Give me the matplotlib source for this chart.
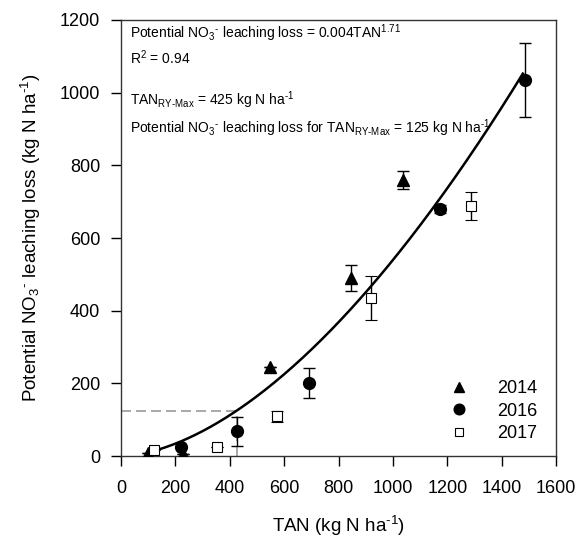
import numpy as np
import matplotlib
matplotlib.use("Agg")
import matplotlib.pyplot as plt

plt.rcParams["font.family"] = ["Liberation Sans", "DejaVu Sans"]
plt.rcParams["mathtext.fontset"] = "custom"
plt.rcParams["mathtext.rm"] = "Liberation Sans"
plt.rcParams["mathtext.it"] = "Liberation Sans"
plt.rcParams["mathtext.default"] = "regular"

# 2014
tan_2014 = [100, 228, 548, 845, 1037]
loss_2014 = [8, 5, 245, 490, 760]
err_2014 = [0, 0, 0, 35, 24]
# 2016
tan_2016 = [221, 427, 691, 1173, 1485]
loss_2016 = [25, 69, 201, 680, 1036]
err_2016 = [0, 40, 41, 10, 102]
# 2017
tan_2017 = [121, 353, 573, 920, 1287]
loss_2017 = [16, 25, 110, 435, 688]
err_2017 = [0, 0, 15, 60, 39]

coef, expo = 0.004, 1.71
tan_max = 425
loss_at_max = 125

fig = plt.figure(figsize=(5.81, 5.36), dpi=100)
ax = fig.add_axes([0.2083, 0.149, 0.7487, 0.8137])

x_fit = np.linspace(100, 1478, 200)
ax.plot(x_fit, coef * x_fit ** expo, color="black", lw=1.8, zorder=2)

ax.plot([0, tan_max], [loss_at_max, loss_at_max], ls=(0, (6, 3)), color="#999999", lw=1.2, zorder=1)
ax.plot([tan_max, tan_max], [0, loss_at_max], ls=(0, (6, 3)), color="#999999", lw=1.2, zorder=1)

ax.errorbar(tan_2014, loss_2014, yerr=err_2014, fmt="^", color="black", ms=8,
            capsize=4, elinewidth=1, capthick=1, label="2014", zorder=3)
ax.errorbar(tan_2016, loss_2016, yerr=err_2016, fmt="o", color="black", ms=8.5,
            capsize=4, elinewidth=1, capthick=1, label="2016", zorder=3)
ax.errorbar(tan_2017, loss_2017, yerr=err_2017, fmt="s", color="black", mfc="white",
            mec="black", mew=0.8, ms=6.5, capsize=4, elinewidth=1, capthick=1,
            label="2017", zorder=3)

ax.set_xlim(0, 1600)
ax.set_ylim(0, 1200)
ax.set_xticks(np.arange(0, 1601, 200))
ax.set_yticks(np.arange(0, 1201, 200))
ax.tick_params(direction="out", length=7, width=1, labelsize=13,
               top=False, right=False)
ax.tick_params(axis="x", pad=10)
ax.tick_params(axis="y", pad=8)
for s in ax.spines.values():
    s.set_linewidth(1)
    s.set_color("#333333")

neg = "\\text{-}"
ax.set_xlabel("TAN (kg N ha$^{%s1}$)" % neg, fontsize=13.5, labelpad=12)
ax.set_ylabel("Potential NO$_3$$^{%s}$ leaching loss (kg N ha$^{%s1}$)" % (neg, neg),
              fontsize=13.5, labelpad=12)

fs = 10
ax.text(0.02, 0.970, "Potential NO$_3$$^{%s}$ leaching loss = 0.004TAN$^{1.71}$" % neg,
        transform=ax.transAxes, fontsize=fs, va="center")
ax.text(0.02, 0.913, "R$^2$ = 0.94", transform=ax.transAxes, fontsize=fs, va="center")
ax.text(0.02, 0.815, "TAN$_{RY%sMax}$ = 425 kg N ha$^{%s1}$" % (neg, neg),
        transform=ax.transAxes, fontsize=fs, va="center")
ax.text(0.02, 0.752, "Potential NO$_3$$^{%s}$ leaching loss for TAN$_{RY%sMax}$ = 125 kg N ha$^{%s1}$"
        % (neg, neg, neg), transform=ax.transAxes, fontsize=fs, va="center")

handles, labels = ax.get_legend_handles_labels()
handles = [h[0] for h in handles]
ax.legend(handles, labels, loc="lower right", bbox_to_anchor=(0.995, -0.005),
          frameon=False, fontsize=13, handletextpad=1.6, labelspacing=0.3,
          handlelength=1.0, markerscale=0.9)

fig.savefig("out.png", dpi=100)
